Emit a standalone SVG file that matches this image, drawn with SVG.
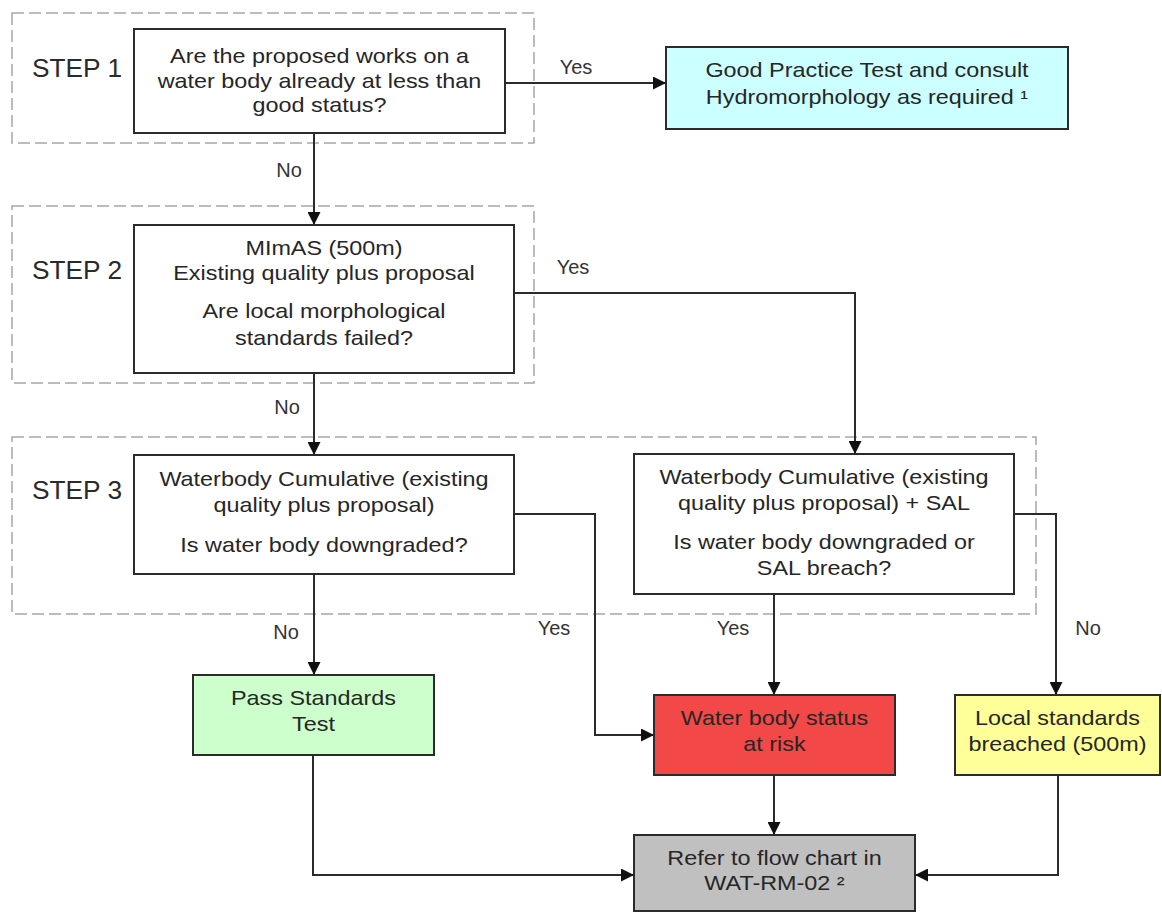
<svg xmlns="http://www.w3.org/2000/svg" width="1162" height="913" viewBox="0 0 1162 913">
  <style>
    .bg { fill: #ffffff; }
    .step { fill: none; stroke: #a6a6a6; stroke-width: 1.5; stroke-dasharray: 12 5; }
    .box { stroke: #2b2b2b; stroke-width: 2; }
    .white { fill: #ffffff; }
    .cyan { fill: #ccffff; }
    .green { fill: #ccffcc; }
    .red { fill: #f24848; }
    .yellow { fill: #ffff99; }
    .grey { fill: #c0c0c0; }
    .t { font-family: "Liberation Sans", Arial, sans-serif; font-size: 20px; fill: #262626; text-anchor: middle; }
    .steplbl { font-family: "Liberation Sans", Arial, sans-serif; font-size: 25px; fill: #2a2a2a; text-anchor: middle; }
    .lbl { font-family: "Liberation Sans", Arial, sans-serif; font-size: 20px; fill: #333333; text-anchor: middle; }
    .wire { fill: none; stroke: #2b2b2b; stroke-width: 2; }
  </style>
  <defs>
    <marker id="arrow" viewBox="0 0 10 10" refX="10" refY="5" markerWidth="13" markerHeight="13" markerUnits="userSpaceOnUse" orient="auto">
      <path d="M0,0 L10,5 L0,10 Z" fill="#111111"/>
    </marker>
  </defs>

  <rect class="bg" x="0" y="0" width="1162" height="913"/>

  <!-- step frames -->
  <g id="step-frames">
    <rect class="step" x="12" y="13" width="522" height="130"/>
    <rect class="step" x="12" y="206" width="522" height="177"/>
    <rect class="step" x="12" y="437" width="1024" height="177"/>
    <g transform="translate(77 0) scale(1.05 1)">
      <text class="steplbl" x="0" y="77">STEP 1</text>
      <text class="steplbl" x="0" y="279">STEP 2</text>
      <text class="steplbl" x="0" y="499">STEP 3</text>
    </g>
  </g>

  <!-- connectors -->
  <g id="connectors">
    <path class="wire" d="M505,83 H666" marker-end="url(#arrow)"/>
    <path class="wire" d="M314,133 V225" marker-end="url(#arrow)"/>
    <path class="wire" d="M314,373 V455" marker-end="url(#arrow)"/>
    <path class="wire" d="M514,293 H855 V454" marker-end="url(#arrow)"/>
    <path class="wire" d="M314,574 V675" marker-end="url(#arrow)"/>
    <path class="wire" d="M514,514 H595 V735 H654" marker-end="url(#arrow)"/>
    <path class="wire" d="M774,594 V695" marker-end="url(#arrow)"/>
    <path class="wire" d="M1014,514 H1056 V695" marker-end="url(#arrow)"/>
    <path class="wire" d="M774,775 V835" marker-end="url(#arrow)"/>
    <path class="wire" d="M313,755 V875 H634" marker-end="url(#arrow)"/>
    <path class="wire" d="M1058,775 V875 H915" marker-end="url(#arrow)"/>
    <text class="lbl" x="576" y="74">Yes</text>
    <text class="lbl" x="289" y="177">No</text>
    <text class="lbl" x="573" y="274">Yes</text>
    <text class="lbl" x="287" y="414">No</text>
    <text class="lbl" x="286" y="639">No</text>
    <text class="lbl" x="554" y="635">Yes</text>
    <text class="lbl" x="733" y="635">Yes</text>
    <text class="lbl" x="1088" y="635">No</text>
  </g>

  <!-- decision: step 1 -->
  <g id="q-less-than-good">
    <rect class="box white" x="134" y="29" width="371" height="104"/>
    <g transform="translate(319.5 0) scale(1.17 1)">
      <text class="t" x="0" y="63">Are the proposed works on a</text>
      <text class="t" x="0" y="88">water body already at less than</text>
      <text class="t" x="0" y="112">good status?</text>
    </g>
  </g>

  <g id="good-practice-test">
    <rect class="box cyan" x="666" y="47" width="402" height="82"/>
    <g transform="translate(867 0) scale(1.17 1)">
      <text class="t" x="0" y="77">Good Practice Test and consult</text>
      <text class="t" x="0" y="104">Hydromorphology as required ¹</text>
    </g>
  </g>

  <!-- decision: step 2 -->
  <g id="q-mimas">
    <rect class="box white" x="134" y="225" width="380" height="148"/>
    <g transform="translate(324 0) scale(1.17 1)">
      <text class="t" x="0" y="255">MImAS (500m)</text>
      <text class="t" x="0" y="280">Existing quality plus proposal</text>
      <text class="t" x="0" y="318">Are local morphological</text>
      <text class="t" x="0" y="345">standards failed?</text>
    </g>
  </g>

  <!-- decisions: step 3 -->
  <g id="q-waterbody-cumulative">
    <rect class="box white" x="134" y="455" width="380" height="119"/>
    <g transform="translate(324 0) scale(1.17 1)">
      <text class="t" x="0" y="486">Waterbody Cumulative (existing</text>
      <text class="t" x="0" y="512">quality plus proposal)</text>
      <text class="t" x="0" y="552">Is water body downgraded?</text>
    </g>
  </g>

  <g id="q-waterbody-cumulative-sal">
    <rect class="box white" x="634" y="454" width="380" height="140"/>
    <g transform="translate(824 0) scale(1.17 1)">
      <text class="t" x="0" y="484">Waterbody Cumulative (existing</text>
      <text class="t" x="0" y="510">quality plus proposal) + SAL</text>
      <text class="t" x="0" y="549">Is water body downgraded or</text>
      <text class="t" x="0" y="575">SAL breach?</text>
    </g>
  </g>

  <!-- outcomes -->
  <g id="pass-standards">
    <rect class="box green" x="193" y="675" width="241" height="80"/>
    <g transform="translate(313.5 0) scale(1.17 1)">
      <text class="t" x="0" y="705">Pass Standards</text>
      <text class="t" x="0" y="731">Test</text>
    </g>
  </g>

  <g id="status-at-risk">
    <rect class="box red" x="654" y="695" width="241" height="80"/>
    <g transform="translate(774.5 0) scale(1.17 1)">
      <text class="t" x="0" y="725">Water body status</text>
      <text class="t" x="0" y="751">at risk</text>
    </g>
  </g>

  <g id="local-standards-breached">
    <rect class="box yellow" x="955" y="695" width="205" height="80"/>
    <g transform="translate(1057.5 0) scale(1.17 1)">
      <text class="t" x="0" y="725">Local standards</text>
      <text class="t" x="0" y="751">breached (500m)</text>
    </g>
  </g>

  <g id="refer-wat-rm-02">
    <rect class="box grey" x="634" y="835" width="281" height="76"/>
    <g transform="translate(774.5 0) scale(1.17 1)">
      <text class="t" x="0" y="865">Refer to flow chart in</text>
      <text class="t" x="0" y="890">WAT-RM-02 ²</text>
    </g>
  </g>
</svg>
